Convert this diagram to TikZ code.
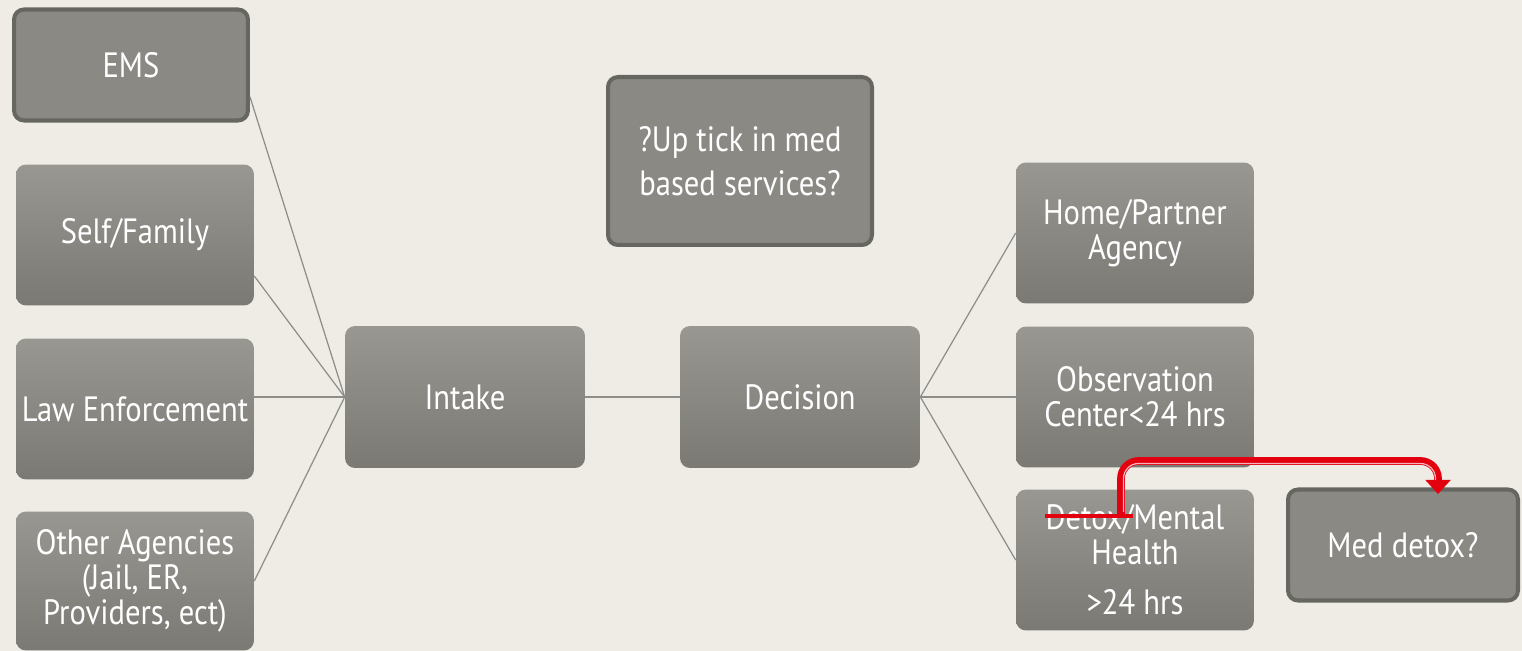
\documentclass[tikz,border=0pt]{standalone}
\usepackage{fontspec}
\setmainfont{PT Sans}[FakeStretch=0.87]
\usetikzlibrary{arrows.meta}

\definecolor{bgcream}{HTML}{EEECE5}
\definecolor{boxgray}{HTML}{8A8984}
\definecolor{boxtop}{HTML}{989792}
\definecolor{boxbot}{HTML}{7A7974}
\definecolor{rimgray}{HTML}{676762}
\definecolor{linkgray}{HTML}{8E8D88}
\definecolor{flagred}{HTML}{E3000F}

\tikzset{
  boxtext/.style={rectangle, rounded corners=0.2cm, text=white, align=center,
    inner sep=2pt, font=\fontsize{20}{19.8}\selectfont},
  srcbox/.style={boxtext, top color=boxtop, bottom color=boxbot,
    minimum width=4.76cm, minimum height=2.82cm},
  rimbox/.style={boxtext, fill=boxgray, draw=rimgray, line width=2.3pt},
  link/.style={draw=linkgray, line width=0.7pt},
  redflag/.style={draw=flagred, line width=4.4pt}
}

\begin{document}
\begin{tikzpicture}[x=0.02cm,y=-0.02cm]
  \fill[bgcream] (0,0) rectangle (1522,651);

  % sources
  \node[rimbox, minimum width=4.68cm, minimum height=2.22cm] (ems) at (131,65) {EMS};
  \node[srcbox] (self) at (135,235) {Self/Family};
  \node[srcbox] (law) at (135,409) {Law Enforcement};
  \node[srcbox, minimum height=2.78cm] (other) at (135,581) {Other Agencies\\(Jail, ER,\\Providers, ect)};

  % middle
  \node[srcbox, minimum width=4.8cm, minimum height=2.84cm] (intake) at (465,397) {Intake};
  \node[srcbox, minimum width=4.8cm, minimum height=2.84cm] (decision) at (800,397) {Decision};
  \node[rimbox, minimum width=5.28cm, minimum height=3.36cm] (uptick) at (740,161) {?Up tick in med\\[5pt]based services?};

  % outcomes
  \node[srcbox] (home) at (1135,233) {Home/Partner\\Agency};
  \node[srcbox] (obs) at (1135,397) {Observation\\Center{<}24 hrs};
  \node[srcbox] (detox) at (1135,560) {Detox/Mental\\Health\\[9pt]{>}24 hrs};
  \node[rimbox, minimum width=4.6cm, minimum height=2.22cm] (med) at (1403,545) {Med detox?};

  % connectors
  \draw[link] (ems.-15) -- (intake.west);
  \draw[link] (self.-19) -- (intake.west);
  \draw[link] (law.east |- intake.west) -- (intake.west);
  \draw[link] (other.east) -- (intake.west);
  \draw[link] (intake) -- (decision);
  \draw[link] (decision.east) -- (home.west);
  \draw[link] (decision.east) -- (obs.west);
  \draw[link] (decision.east) -- (detox.west);

  % red edit
  \coordinate (strikeL) at (1045,516);
  \coordinate (strikeR) at (1133,516);
  \coordinate (bendstart) at (1121,516);
  \coordinate (bendend) at (1438,494);
  \draw[redflag, line width=2.4pt] (strikeL) -- (strikeR);
  \draw[redflag, rounded corners=0.35cm, -{Triangle[length=8pt,width=14pt]}]
    (bendstart) -- (1121,461) -- (1438,461) -- (bendend);
  \draw[flagred!30!white, line width=0.7pt, rounded corners=0.3cm]
    (1123.5,512) -- (1123.5,463.5) -- (1435.5,463.5) -- (1435.5,480);
\end{tikzpicture}
\end{document}
